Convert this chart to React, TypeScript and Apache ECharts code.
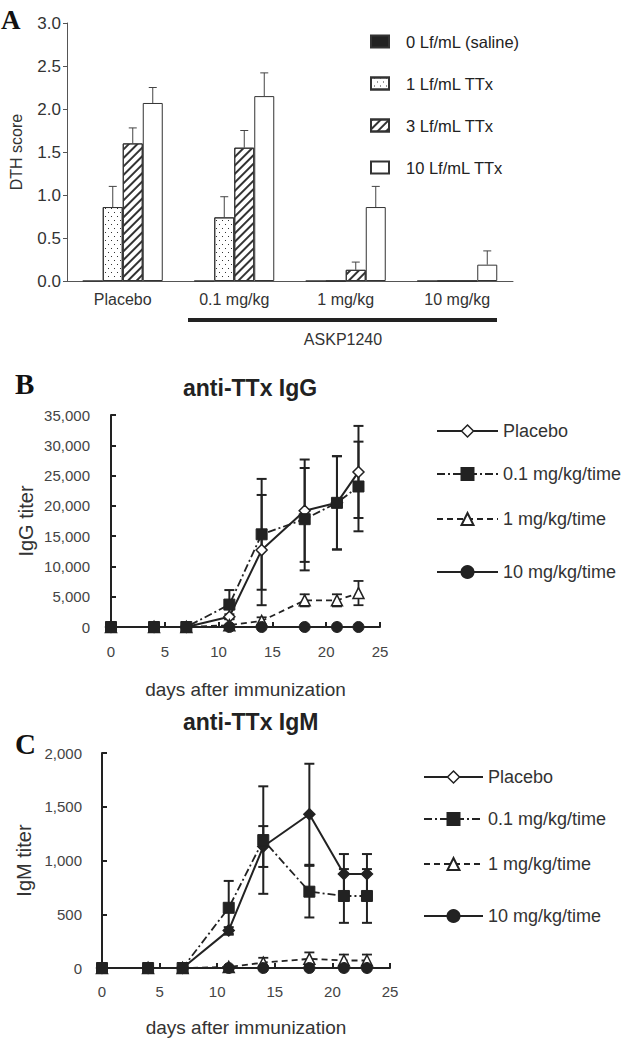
import React, { useEffect, useRef } from 'react';
import * as echarts from 'echarts';

// ---------- Panel A data ----------
const categories = ['Placebo', '0.1 mg/kg', '1 mg/kg', '10 mg/kg'];
const barNames = ['0 Lf/mL (saline)', '1 Lf/mL TTx', '3 Lf/mL TTx', '10 Lf/mL TTx'];
const saline = [0, 0, 0, 0];
const ttx1 = [0.86, 0.74, 0, 0];
const ttx3 = [1.6, 1.55, 0.13, 0];
const ttx10 = [2.07, 2.15, 0.86, 0.19];
const salineErr = [0, 0, 0, 0];
const ttx1Err = [0.24, 0.24, 0, 0];
const ttx3Err = [0.18, 0.2, 0.09, 0];
const ttx10Err = [0.18, 0.27, 0.24, 0.16];

// ---------- Panels B / C data ----------
const days = [0, 4, 7, 11, 14, 18, 21, 23];
const groupNames = ['Placebo', '0.1 mg/kg/time', '1 mg/kg/time', '10 mg/kg/time'];

const igGPlacebo = [0, 0, 0, 1700, 12700, 19200, 20500, 25600];
const igGPlaceboErr = [0, 0, 0, 400, 9100, 8450, 7700, 7600];
const igG01 = [0, 0, 0, 3700, 15300, 17800, 20500, 23200];
const igG01Err = [0, 0, 0, 2400, 9150, 8450, 7700, 7400];
const igG1 = [0, 0, 0, 300, 1000, 4400, 4400, 5600];
const igG1Err = [0, 0, 0, 0, 600, 1000, 1000, 2000];
const igG10 = [0, 0, 0, 0, 0, 0, 0, 0];

const igMPlacebo = [0, 0, 0, 350, 1130, 1430, 875, 875];
const igMPlaceboErr = [0, 0, 0, 30, 190, 470, 185, 185];
const igM01 = [0, 0, 0, 560, 1190, 710, 670, 670];
const igM01Err = [0, 0, 0, 250, 500, 240, 250, 250];
const igM1 = [0, 0, 0, 10, 50, 85, 70, 70];
const igM1Err = [0, 0, 0, 0, 45, 60, 55, 55];
const igM10 = [0, 0, 0, 0, 0, 0, 0, 0];

const DARK = '#222';
const SANS = '"Liberation Sans", Arial, Helvetica, sans-serif';
const SERIF = '"Liberation Serif", "Times New Roman", serif';
const fmt = (v: number) => v.toLocaleString('en-US');

const OFF_B = 350;
const OFF_C = 700;

function barErrSeries(vals: number[], errs: number[], offset: number) {
  return {
    type: 'custom',
    silent: true,
    z: 5,
    data: vals.map((v, i) => [i, v, errs[i]]).filter((d) => d[2] > 0),
    renderItem: (params: any, api: any) => {
      const c = api.value(0);
      const v = api.value(1);
      const e = api.value(2);
      const p = api.coord([c, v]);
      const t = api.coord([c, v + e]);
      const x = p[0] + offset;
      const st = { stroke: '#444', lineWidth: 1 };
      return {
        type: 'group',
        children: [
          { type: 'line', shape: { x1: x, y1: p[1], x2: x, y2: t[1] }, style: st },
          { type: 'line', shape: { x1: x - 4, y1: t[1], x2: x + 4, y2: t[1] }, style: st },
        ],
      };
    },
  };
}

function lineErrSeries(vals: number[], errs: number[], lw: number) {
  return {
    type: 'custom',
    silent: true,
    z: 1,
    data: days.map((d, i) => [d, vals[i], errs[i]]).filter((d) => d[2] > 0),
    renderItem: (params: any, api: any) => {
      const x0 = api.value(0);
      const v = api.value(1);
      const e = api.value(2);
      const t = api.coord([x0, v + e]);
      const b = api.coord([x0, v - e]);
      const st = { stroke: DARK, lineWidth: lw };
      return {
        type: 'group',
        children: [
          { type: 'line', shape: { x1: t[0], y1: t[1], x2: b[0], y2: b[1] }, style: st },
          { type: 'line', shape: { x1: t[0] - 5, y1: t[1], x2: t[0] + 5, y2: t[1] }, style: st },
          { type: 'line', shape: { x1: b[0] - 5, y1: b[1], x2: b[0] + 5, y2: b[1] }, style: st },
        ],
      };
    },
  };
}

function buildA() {
  const barBase = { type: 'bar', barWidth: 20, barGap: '0%', z: 3 };
  const border = { borderColor: '#333', borderWidth: 1 };
  return {
    animation: false,
    grid: { left: 67, top: 23, width: 446, height: 258, outerBoundsMode: 'none', containLabel: false },
    legend: {
      orient: 'vertical',
      left: 370,
      top: 33,
      padding: 0,
      itemWidth: 18,
      itemHeight: 12,
      itemGap: 25,
      icon: 'rect',
      data: barNames,
      textStyle: { fontFamily: SANS, fontSize: 16.5, color: '#222', padding: [0, 0, 0, 12] },
    },
    title: [{ text: 'A', left: 1, top: 6, padding: 0, textStyle: { fontFamily: SERIF, fontSize: 27, fontWeight: 'bold', color: '#111' } }],
    xAxis: {
      type: 'category',
      data: categories,
      axisLine: { lineStyle: { color: '#555', width: 1 } },
      axisTick: { inside: true, length: 5, lineStyle: { color: '#555' } },
      axisLabel: { fontFamily: SANS, fontSize: 16, color: '#333', margin: 10 },
    },
    yAxis: {
      type: 'value',
      min: 0,
      max: 3,
      interval: 0.5,
      name: 'DTH score',
      nameLocation: 'middle',
      nameGap: 43,
      nameTextStyle: { fontFamily: SANS, fontSize: 16, color: '#333' },
      splitLine: { show: false },
      axisLine: { show: true, lineStyle: { color: '#555', width: 1 } },
      axisTick: { show: true, length: 4, lineStyle: { color: '#555' } },
      axisLabel: { fontFamily: SANS, fontSize: 17, color: '#333', margin: 6, formatter: (v: number) => v.toFixed(1) },
    },
    graphic: [
      { type: 'line', shape: { x1: 188, y1: 320, x2: 497, y2: 320 }, style: { stroke: '#222', lineWidth: 4 } },
      { type: 'text', x: 343, y: 339, style: { text: 'ASKP1240', fontFamily: SANS, fontSize: 16, fill: '#333', align: 'center', verticalAlign: 'middle' } },
    ],
    series: [
      { ...barBase, name: barNames[0], data: saline, itemStyle: { color: '#222', ...border } },
      {
        ...barBase,
        name: barNames[1],
        data: ttx1,
        itemStyle: {
          color: '#fff',
          ...border,
          decal: { symbol: 'rect', symbolSize: 1, color: '#333', dashArrayX: [[1, 5], [0, 3, 1, 2]], dashArrayY: [1, 3] },
        },
      },
      {
        ...barBase,
        name: barNames[2],
        data: ttx3,
        itemStyle: {
          color: '#fff',
          ...border,
          decal: { symbol: 'rect', symbolSize: 1, color: '#333', dashArrayX: [1, 0], dashArrayY: [1.3, 3.5], rotation: -Math.PI / 4 },
        },
      },
      { ...barBase, name: barNames[3], data: ttx10, itemStyle: { color: '#fff', ...border } },
      barErrSeries(saline, salineErr, -30),
      barErrSeries(ttx1, ttx1Err, -10),
      barErrSeries(ttx3, ttx3Err, 10),
      barErrSeries(ttx10, ttx10Err, 30),
    ],
  };
}

function buildLine(opts: any) {
  const {
    title, letter, letterTop, titleTop, grid, yMax, yInterval, yName, yNameGap, xNameGap, xLabelMargin,
    vals, errs, legendPos, legendLineW, placeboFill, yLabelMargin,
  } = opts;
  const lw = 2;
  const mk = (i: number) => days.map((d, j) => [d, vals[i][j]]);
  const placeboStyle = { color: placeboFill, borderColor: DARK, borderWidth: 1.5 };
  const legendItemStyles = [
    { name: groupNames[0], itemStyle: { color: '#fff', borderColor: DARK, borderWidth: 1.5 } },
    { name: groupNames[1] },
    { name: groupNames[2] },
    { name: groupNames[3] },
  ];
  return {
    animation: false,
    title: [
      { text: letter, left: 15, top: letterTop, padding: 0, textStyle: { fontFamily: SERIF, fontSize: 29, fontWeight: 'bold', color: '#111' } },
      { text: title, left: 183, top: titleTop, padding: 0, textStyle: { fontFamily: SANS, fontSize: 23, fontWeight: 'bold', color: '#222' } },
    ],
    legend: legendPos.map((pos: number[], i: number) => ({
      data: [legendItemStyles[i]],
      left: pos[0],
      top: pos[1] - 8,
      padding: 0,
      itemWidth: legendLineW,
      itemHeight: 15,
      itemGap: 0,
      textStyle: { fontFamily: SANS, fontSize: 18, color: '#333' },
    })),
    grid: { ...grid, outerBoundsMode: 'none', containLabel: false },
    xAxis: {
      type: 'value',
      min: 0,
      max: 25,
      interval: 5,
      name: 'days after immunization',
      nameLocation: 'middle',
      nameGap: xNameGap,
      nameTextStyle: { fontFamily: SANS, fontSize: 19, color: '#333' },
      splitLine: { show: false },
      axisLine: { lineStyle: { color: DARK, width: 2 } },
      axisTick: { inside: true, length: 5, lineStyle: { color: DARK, width: 2 } },
      axisLabel: { fontFamily: SANS, fontSize: 15, color: '#444', margin: xLabelMargin },
    },
    yAxis: {
      type: 'value',
      min: 0,
      max: yMax,
      interval: yInterval,
      name: yName,
      nameLocation: 'middle',
      nameGap: yNameGap,
      nameTextStyle: { fontFamily: SANS, fontSize: 20, color: '#333' },
      splitLine: { show: false },
      axisLine: { show: true, lineStyle: { color: DARK, width: 2 } },
      axisTick: { show: true, inside: true, length: 5, lineStyle: { color: DARK, width: 2 } },
      axisLabel: { fontFamily: SANS, fontSize: 15, color: '#444', margin: yLabelMargin, formatter: fmt },
    },
    series: [
      lineErrSeries(vals[0], errs[0], 2),
      lineErrSeries(vals[1], errs[1], 2),
      lineErrSeries(vals[2], errs[2], 1.8),
      {
        type: 'line', name: groupNames[0], data: mk(0), z: 3, symbol: 'diamond', symbolSize: 11,
        lineStyle: { color: DARK, width: lw, type: 'solid' }, itemStyle: placeboStyle,
      },
      {
        type: 'line', name: groupNames[2], data: mk(2), z: 3, symbol: 'triangle', symbolSize: 11,
        lineStyle: { color: DARK, width: 1.8, type: [6, 4] }, itemStyle: { color: '#fff', borderColor: DARK, borderWidth: 1.5 },
      },
      {
        type: 'line', name: groupNames[3], data: mk(3), z: 3, symbol: 'circle', symbolSize: 11,
        lineStyle: { color: DARK, width: lw, type: 'solid' }, itemStyle: { color: DARK, borderColor: DARK, borderWidth: 1 },
      },
      {
        type: 'line', name: groupNames[1], data: mk(1), z: 4, symbol: 'rect', symbolSize: 11,
        lineStyle: { color: DARK, width: 1.8, type: [8, 3, 2, 3] }, itemStyle: { color: DARK, borderColor: DARK, borderWidth: 1 },
      },
    ],
  };
}

function buildB() {
  return buildLine({
    title: 'anti-TTx IgG',
    letter: 'B',
    letterTop: 369 - OFF_B,
    titleTop: 376 - OFF_B,
    grid: { left: 111, top: 415 - OFF_B, width: 269, height: 212 },
    yMax: 35000,
    yInterval: 5000,
    yName: 'IgG titer',
    yNameGap: 75,
    xNameGap: 53,
    xLabelMargin: 17,
    yLabelMargin: 21,
    vals: [igGPlacebo, igG01, igG1, igG10],
    errs: [igGPlaceboErr, igG01Err, igG1Err],
    legendPos: [[436, 430 - OFF_B], [436, 473 - OFF_B], [436, 518 - OFF_B], [436, 571 - OFF_B]],
    legendLineW: 61,
    placeboFill: '#fff',
  });
}

function buildC() {
  return buildLine({
    title: 'anti-TTx IgM',
    letter: 'C',
    letterTop: 729 - OFF_C,
    titleTop: 710 - OFF_C,
    grid: { left: 102, top: 753 - OFF_C, width: 288, height: 215 },
    yMax: 2000,
    yInterval: 500,
    yName: 'IgM titer',
    yNameGap: 68,
    xNameGap: 50,
    xLabelMargin: 16,
    yLabelMargin: 20,
    vals: [igMPlacebo, igM01, igM1, igM10],
    errs: [igMPlaceboErr, igM01Err, igM1Err],
    legendPos: [[423, 776 - OFF_C], [423, 818 - OFF_C], [423, 863 - OFF_C], [423, 915 - OFF_C]],
    legendLineW: 59,
    placeboFill: DARK,
  });
}

export default function App() {
  const refA = useRef<HTMLDivElement>(null);
  const refB = useRef<HTMLDivElement>(null);
  const refC = useRef<HTMLDivElement>(null);

  useEffect(() => {
    const charts: any[] = [];
    const pairs: [HTMLDivElement | null, any][] = [
      [refA.current, buildA()],
      [refB.current, buildB()],
      [refC.current, buildC()],
    ];
    pairs.forEach(([el, opt]) => {
      if (!el) return;
      const c = echarts.init(el, null, { renderer: 'svg' });
      c.setOption(opt);
      charts.push(c);
    });
    return () => charts.forEach((c) => c.dispose());
  }, []);

  const base: React.CSSProperties = { position: 'absolute', left: 0, width: 623, background: 'transparent' };
  return (
    <div style={{ position: 'absolute', left: 0, top: 0, width: 623, height: 1043, background: '#fff' }}>
      <div ref={refA} style={{ ...base, top: 0, height: OFF_B }} />
      <div ref={refB} style={{ ...base, top: OFF_B, height: OFF_C - OFF_B }} />
      <div ref={refC} style={{ ...base, top: OFF_C, height: 1043 - OFF_C }} />
    </div>
  );
}
